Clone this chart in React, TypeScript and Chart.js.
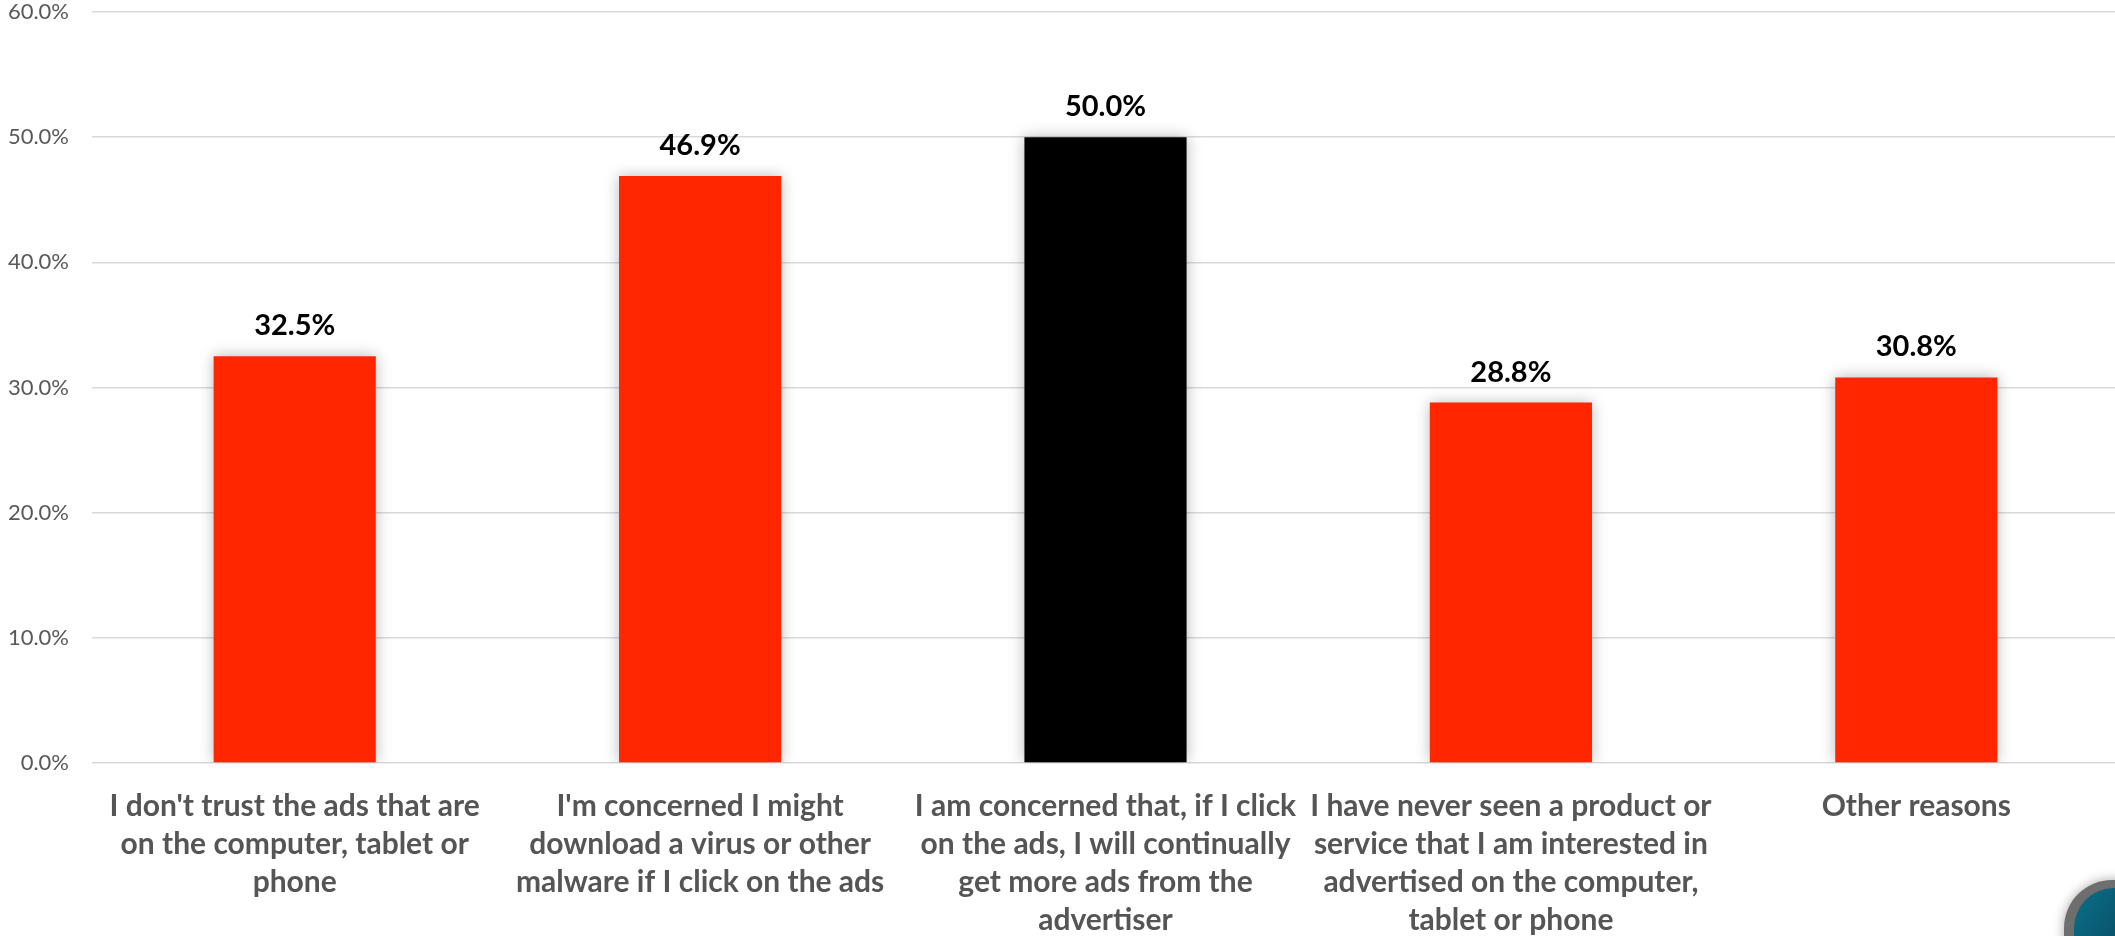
import React, { useEffect, useRef } from "react";
import { Chart, registerables } from "chart.js";

Chart.register(...registerables);

const categories: string[][] = [
  ["I don't trust the ads that are", "on the computer, tablet or", "phone"],
  ["I'm concerned I might", "download a virus or other", "malware if I click on the ads"],
  ["I am concerned that, if I click", "on the ads, I will continually", "get more ads from the", "advertiser"],
  ["I have never seen a product or", "service that I am interested in", "advertised on the computer,", "tablet or phone"],
  ["Other reasons"],
];
const values: number[] = [32.5, 46.9, 50.0, 28.8, 30.8];
const barColors: string[] = ["#FF2600", "#FF2600", "#000000", "#FF2600", "#FF2600"];
const yTicks = { min: 0, max: 60, step: 10 };

const FONT = "Lato, 'Open Sans', sans-serif";

const shadowPlugin = {
  id: "barShadow",
  beforeDatasetsDraw(chart: any) {
    const ctx = chart.ctx;
    ctx.save();
    ctx.shadowColor = "rgba(0,0,0,0.28)";
    ctx.shadowBlur = 14;
    ctx.shadowOffsetX = 0;
    ctx.shadowOffsetY = 0;
  },
  afterDatasetsDraw(chart: any) {
    chart.ctx.restore();
  },
};

const labelPlugin = {
  id: "valueLabels",
  afterDraw(chart: any) {
    const ctx = chart.ctx;
    const meta = chart.getDatasetMeta(0);
    ctx.save();
    ctx.font = `bold 29px ${FONT}`;
    ctx.fillStyle = "#000000";
    ctx.textAlign = "center";
    ctx.textBaseline = "alphabetic";
    meta.data.forEach((bar: any, i: number) => {
      ctx.fillText(values[i].toFixed(1) + "%", bar.x, bar.y - 21);
    });
    // decorative corner logo fragment
    ctx.shadowColor = "rgba(0,0,0,0.35)";
    ctx.shadowBlur = 12;
    ctx.beginPath();
    (ctx as any).roundRect(2064, 880, 160, 140, 48);
    ctx.fillStyle = "#6e6e6e";
    ctx.fill();
    ctx.shadowBlur = 0;
    ctx.beginPath();
    (ctx as any).roundRect(2074, 888, 150, 130, 40);
    const g = ctx.createLinearGradient(2074, 888, 2150, 936);
    g.addColorStop(0, "#0b6f8a");
    g.addColorStop(1, "#08485c");
    ctx.fillStyle = g;
    ctx.fill();
    ctx.restore();
  },
};

export default function App() {
  const ref = useRef<HTMLCanvasElement | null>(null);
  useEffect(() => {
    if (!ref.current) return;
    const chart = new Chart(ref.current, {
      type: "bar",
      data: {
        labels: categories,
        datasets: [
          {
            data: values,
            backgroundColor: barColors,
            borderWidth: 0,
            barPercentage: 0.4,
            categoryPercentage: 1,
          },
        ],
      },
      options: {
        responsive: false,
        animation: false,
        devicePixelRatio: 1,
        layout: { padding: { top: 12, left: 0, right: 0, bottom: 0 } },
        plugins: {
          legend: { display: false },
          tooltip: { enabled: false },
        },
        scales: {
          x: {
            grid: { display: false },
            border: { display: false },
            ticks: {
              color: "#555555",
              font: { family: FONT, size: 30, weight: "bold", lineHeight: 1.27 },
              maxRotation: 0,
              minRotation: 0,
              autoSkip: false,
              padding: 16,
            },
            afterFit: (scale: any) => {
              scale.height = 173;
              scale.paddingLeft = 0;
              scale.paddingRight = 0;
            },
          },
          y: {
            min: yTicks.min,
            max: yTicks.max,
            grid: { color: "#D9D9D9", lineWidth: 1.5, drawTicks: false },
            border: { display: false },
            ticks: {
              stepSize: yTicks.step,
              color: "#595959",
              font: { family: FONT, size: 22 },
              padding: 23,
              callback: (v: any) => Number(v).toFixed(1) + "%",
            },
            afterFit: (scale: any) => {
              scale.width = 92;
              scale.paddingTop = 0;
              scale.paddingBottom = 0;
            },
          },
        },
      },
      plugins: [shadowPlugin, labelPlugin],
    });
    return () => chart.destroy();
  }, []);
  return (
    <div style={{ position: "fixed", left: 0, top: 0, width: 2115, height: 936, overflow: "hidden", background: "#fff" }}>
      <canvas ref={ref} width={2119} height={936} style={{ display: "block" }} />
    </div>
  );
}
